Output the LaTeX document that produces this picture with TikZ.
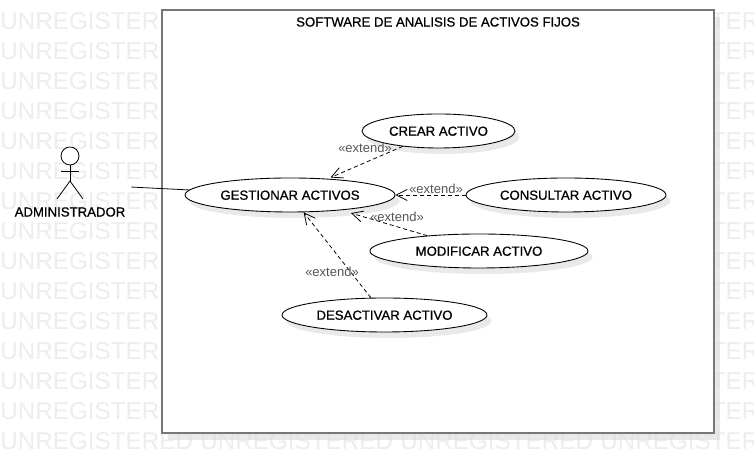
\documentclass[tikz,border=0pt]{standalone}
\usepackage{fontspec}
\setmainfont{Liberation Sans}
\newfontfamily\labelfont[FakeBold=0.8]{Liberation Sans}
\usetikzlibrary{shapes.geometric,arrows.meta,shadows}
\definecolor{framegray}{HTML}{777777}
\definecolor{markgray}{HTML}{EDEDED}
\definecolor{extendgray}{HTML}{555555}
\tikzset{
    mark text/.style={text=markgray, anchor=west, inner sep=0, font=\fontsize{13.8}{16}\selectfont},
    usecase/.style={draw=black, fill=white, ellipse, line width=0.5pt, inner sep=0, minimum height=0.68cm, text height=0.19cm, text depth=0cm, font=\fontsize{7.5}{9}\selectfont\labelfont, drop shadow={shadow xshift=0.09cm, shadow yshift=-0.12cm, fill=black!14, opacity=0.6}},
    extend/.style={draw=black, line width=0.45pt, dash pattern=on 0.08cm off 0.06cm, -{Straight Barb[length=0.22cm,width=0.22cm]}},
    extend label/.style={text=extendgray, inner sep=0, font=\fontsize{7.4}{9}\selectfont},
    plain text/.style={black, inner sep=0, font=\fontsize{7.5}{9}\selectfont\labelfont},
    actor line/.style={draw=black, line width=0.45pt},
}
\begin{document}
\begin{tikzpicture}
            \useasboundingbox (0.00,0.00) rectangle (15.08,9.48);
            \fill[white] (0.00,0.00) rectangle (15.08,9.48);
            % watermark behind everything
            \begin{scope}
                \clip (0.00,0.00) rectangle (15.08,9.48);
                \foreach \row in {0,...,14} {
                    \foreach \col in {0,3} {
                        \node[mark text] (mark\row\col) at (0.00+4.00*\col,9.06-0.60*\row) {UNREGISTERED};
                    }
                }
                \foreach \col in {1,2} {
                    \node[mark text] (mark14\col) at (0.00+4.00*\col,0.66) {UNREGISTERED};
                }
            \end{scope}
            % system boundary
            \node[draw=framegray, fill=white, line width=1.1pt, minimum width=11.04cm, minimum height=8.46cm, drop shadow={shadow xshift=0.12cm, shadow yshift=-0.14cm, fill=black!14, opacity=0.6}] (sistema) at (8.76,5.05) {};
            \node[plain text] (titulo) at (8.76,9.04) {SOFTWARE DE ANALISIS DE ACTIVOS FIJOS};
            % actor
            \draw[actor line] (1.40,6.36) circle (0.18);
            \draw[actor line] (1.40,6.18) -- (1.40,5.86);
            \draw[actor line] (1.22,6.06) -- (1.58,6.06);
            \draw[actor line] (1.14,5.50) -- (1.40,5.86) -- (1.66,5.50);
            \node[plain text] (etiquetaadmin) at (1.40,5.24) {ADMINISTRADOR};
            \node[inner sep=0, minimum width=2.44cm, minimum height=1.00cm] (administrador) at (1.40,5.80) {};
            % use cases
            \node[usecase, minimum width=4.20cm] (gestionar) at (5.80,5.58) {GESTIONAR ACTIVOS};
            \node[usecase, minimum width=3.06cm] (crear) at (8.77,6.86) {CREAR ACTIVO};
            \node[usecase, minimum width=4.00cm] (consultar) at (11.32,5.58) {CONSULTAR ACTIVO};
            \node[usecase, minimum width=4.36cm] (modificar) at (9.58,4.46) {MODIFICAR ACTIVO};
            \node[usecase, minimum width=4.10cm] (desactivar) at (7.69,3.18) {DESACTIVAR ACTIVO};
            % connectors
            \draw[actor line] (administrador) -- (gestionar);
            \draw[extend, shorten >=0.06cm] (crear) -- (gestionar);
            \draw[extend] (consultar) -- (gestionar);
            \draw[extend, shorten >=0.20cm] (modificar) -- (gestionar);
            \draw[extend] (desactivar) -- (gestionar);
            \node[extend label] (extendcrear) at (7.30,6.52) {«extend»};
            \node[extend label] (extendconsultar) at (8.72,5.70) {«extend»};
            \node[extend label] (extendmodificar) at (7.94,5.14) {«extend»};
            \node[extend label] (extenddesactivar) at (6.64,4.04) {«extend»};
        \end{tikzpicture}
\end{document}
